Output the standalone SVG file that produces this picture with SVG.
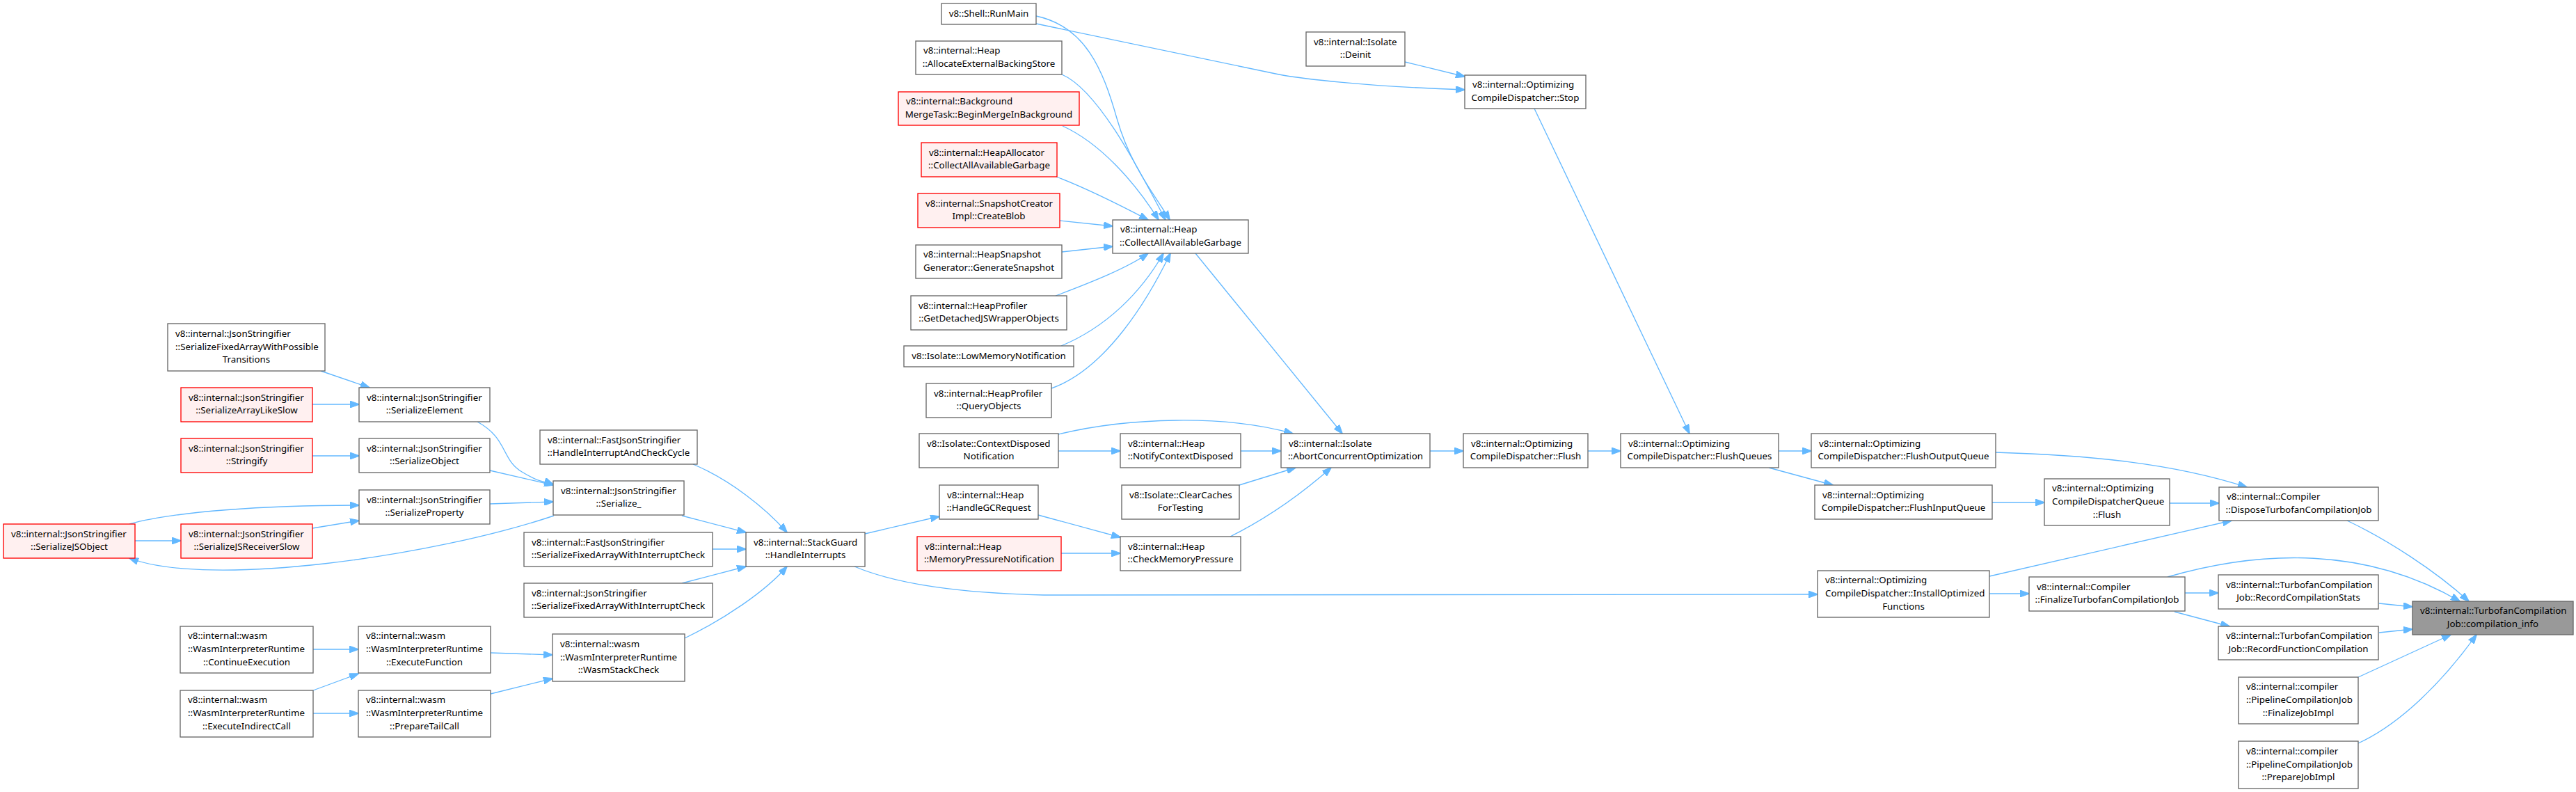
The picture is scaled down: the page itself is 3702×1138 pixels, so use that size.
<svg xmlns="http://www.w3.org/2000/svg" width="3702" height="1138" viewBox="0 0 3702 1138">
<style>
text{font-family:"Noto Sans","DejaVu Sans",sans-serif;font-size:13.33px;fill:#000}
.m{text-anchor:middle}
.n rect{fill:#fff;stroke:#666;stroke-width:1.33}
.r rect{fill:#fff0f0;stroke:#f00;stroke-width:1.33}
.g rect{fill:#999;stroke:#666;stroke-width:1.33}
#edges path{fill:none;stroke:#63b8ff;stroke-width:1.33;marker-end:url(#a)}
</style>
<defs>
<marker id="a" markerUnits="userSpaceOnUse" markerWidth="14" markerHeight="10" viewBox="0 0 14 10" refX="13" refY="5" orient="auto"><path d="M0,0L14,5L0,10z" fill="#63b8ff" stroke="#63b8ff" stroke-width="1"/></marker>
</defs>
<rect width="3702" height="1138" fill="#fff"/>
<g id="edges">
<path d="M1489,23 C1560,38 1585,100 1605,170 S1660,280 1681,316"/>
<path d="M1526,107 C1580,130 1640,250 1675,316"/>
<path d="M1527,181 C1580,205 1630,260 1665,316"/>
<path d="M1518,254 C1560,270 1610,295 1650,316"/>
<path d="M1523,317 L1599,325"/>
<path d="M1526,362 L1599,354"/>
<path d="M1517,425 C1570,405 1620,385 1650,364"/>
<path d="M1525,497 C1590,470 1640,420 1672,364"/>
<path d="M1511,558 C1590,530 1650,430 1682,364"/>
<path d="M1718,364 L1929,623"/>
<path d="M2205,156 L2428,623"/>
<path d="M2019,89 L2105,110"/>
<path d="M1489,34 L1838,107 C1870,113 1960,124 2105,129"/>
<path d="M1521,624 C1620,600 1760,595 1858,623"/>
<path d="M1521,648 L1610,648"/>
<path d="M1783,648 L1841,648"/>
<path d="M1781,697 L1862,672"/>
<path d="M1768,771 C1820,745 1870,710 1913,672"/>
<path d="M1492,740 L1610,772"/>
<path d="M1525,795 L1610,795"/>
<path d="M1243,767 L1350,742"/>
<path d="M1228,814 C1290,840 1380,852 1500,855 L2612,854"/>
<path d="M2055,648 L2103,648"/>
<path d="M2282,648 L2329,648"/>
<path d="M2556,648 L2603,648"/>
<path d="M2542,672 L2634,697"/>
<path d="M2863,722 L2938,722"/>
<path d="M2868,650 C3000,654 3120,665 3229,700"/>
<path d="M3118,723 L3189,723"/>
<path d="M2859,828 L3207,748"/>
<path d="M2859,853 L2916,853"/>
<path d="M3115,829 C3250,790 3400,785 3535,864"/>
<path d="M3140,852 L3188,852"/>
<path d="M3125,879 L3204,900"/>
<path d="M3373,748 C3430,775 3500,820 3548,864"/>
<path d="M3419,867 L3467,872"/>
<path d="M3419,909 L3467,904"/>
<path d="M3389,973 L3522,912"/>
<path d="M3389,1068 C3450,1040 3510,980 3559,912"/>
<path d="M461,533 L531,557"/>
<path d="M449,581 L516,581"/>
<path d="M449,655 L516,655"/>
<path d="M186,753 C250,735 380,726 516,726"/>
<path d="M449,759 L516,748"/>
<path d="M194,777 L260,777"/>
<path d="M796,741 C620,800 300,845 186,802"/>
<path d="M686,606 C730,630 720,660 750,678 S780,690 795,696"/>
<path d="M704,676 L795,697"/>
<path d="M704,724 L795,721"/>
<path d="M996,667 C1050,690 1100,730 1131,765"/>
<path d="M980,741 L1072,765"/>
<path d="M1024,789 L1072,789"/>
<path d="M980,838 L1072,814"/>
<path d="M984,917 C1040,890 1100,850 1131,814"/>
<path d="M450,933 L515,933"/>
<path d="M450,992 L515,968"/>
<path d="M450,1025 L515,1025"/>
<path d="M705,938 L794,941"/>
<path d="M705,997 L794,975"/>
</g>
<g id="n1" class="n"><rect x="1353" y="5" width="136" height="30"/><text class="m" x="1421" y="23.5">v8::Shell::RunMain</text></g>
<g id="n2" class="n"><rect x="1316" y="59" width="210" height="48"/><text x="1327" y="77.2">v8::internal::Heap</text><text class="m" x="1421" y="95.8">::AllocateExternalBackingStore</text></g>
<g id="n3" class="r"><rect x="1291" y="132" width="260" height="48"/><text x="1302" y="150.2">v8::internal::Background</text><text class="m" x="1421" y="168.8">MergeTask::BeginMergeInBackground</text></g>
<g id="n4" class="r"><rect x="1324" y="205" width="195" height="49"/><text x="1335" y="223.7">v8::internal::HeapAllocator</text><text class="m" x="1421.5" y="242.3">::CollectAllAvailableGarbage</text></g>
<g id="n5" class="r"><rect x="1319" y="278" width="204" height="49"/><text x="1330" y="296.7">v8::internal::SnapshotCreator</text><text class="m" x="1421" y="315.3">Impl::CreateBlob</text></g>
<g id="n6" class="n"><rect x="1316" y="352" width="210" height="48"/><text x="1327" y="370.2">v8::internal::HeapSnapshot</text><text class="m" x="1421" y="388.8">Generator::GenerateSnapshot</text></g>
<g id="n7" class="n"><rect x="1309" y="425" width="224" height="49"/><text x="1320" y="443.7">v8::internal::HeapProfiler</text><text class="m" x="1421" y="462.3">::GetDetachedJSWrapperObjects</text></g>
<g id="n8" class="n"><rect x="1299" y="497" width="244" height="30"/><text class="m" x="1421" y="515.5">v8::Isolate::LowMemoryNotification</text></g>
<g id="n9" class="n"><rect x="1331" y="551" width="180" height="49"/><text x="1342" y="569.7">v8::internal::HeapProfiler</text><text class="m" x="1421" y="588.3">::QueryObjects</text></g>
<g id="n10" class="n"><rect x="1599" y="316" width="195" height="48"/><text x="1610" y="334.2">v8::internal::Heap</text><text class="m" x="1696.5" y="352.8">::CollectAllAvailableGarbage</text></g>
<g id="n11" class="n"><rect x="1877" y="46" width="142" height="49"/><text x="1888" y="64.7">v8::internal::Isolate</text><text class="m" x="1948" y="83.3">::Deinit</text></g>
<g id="n12" class="n"><rect x="2105" y="108" width="174" height="48"/><text x="2116" y="126.2">v8::internal::Optimizing</text><text class="m" x="2192" y="144.8">CompileDispatcher::Stop</text></g>
<g id="n13" class="n"><rect x="1321" y="623" width="200" height="49"/><text x="1332" y="641.7">v8::Isolate::ContextDisposed</text><text class="m" x="1421" y="660.3">Notification</text></g>
<g id="n14" class="n"><rect x="1610" y="623" width="173" height="49"/><text x="1621" y="641.7">v8::internal::Heap</text><text class="m" x="1696.5" y="660.3">::NotifyContextDisposed</text></g>
<g id="n15" class="n"><rect x="1841" y="623" width="214" height="49"/><text x="1852" y="641.7">v8::internal::Isolate</text><text class="m" x="1948" y="660.3">::AbortConcurrentOptimization</text></g>
<g id="n16" class="n"><rect x="1612" y="697" width="169" height="49"/><text x="1623" y="715.7">v8::Isolate::ClearCaches</text><text class="m" x="1696.5" y="734.3">ForTesting</text></g>
<g id="n17" class="n"><rect x="1350" y="697" width="142" height="49"/><text x="1361" y="715.7">v8::internal::Heap</text><text class="m" x="1421" y="734.3">::HandleGCRequest</text></g>
<g id="n18" class="r"><rect x="1318" y="771" width="207" height="49"/><text x="1329" y="789.7">v8::internal::Heap</text><text class="m" x="1421.5" y="808.3">::MemoryPressureNotification</text></g>
<g id="n19" class="n"><rect x="1610" y="771" width="173" height="49"/><text x="1621" y="789.7">v8::internal::Heap</text><text class="m" x="1696.5" y="808.3">::CheckMemoryPressure</text></g>
<g id="n20" class="n"><rect x="2103" y="623" width="179" height="49"/><text x="2114" y="641.7">v8::internal::Optimizing</text><text class="m" x="2192.5" y="660.3">CompileDispatcher::Flush</text></g>
<g id="n21" class="n"><rect x="2329" y="623" width="227" height="49"/><text x="2340" y="641.7">v8::internal::Optimizing</text><text class="m" x="2442.5" y="660.3">CompileDispatcher::FlushQueues</text></g>
<g id="n22" class="n"><rect x="2603" y="623" width="265" height="49"/><text x="2614" y="641.7">v8::internal::Optimizing</text><text class="m" x="2735.5" y="660.3">CompileDispatcher::FlushOutputQueue</text></g>
<g id="n23" class="n"><rect x="2608" y="697" width="255" height="49"/><text x="2619" y="715.7">v8::internal::Optimizing</text><text class="m" x="2735.5" y="734.3">CompileDispatcher::FlushInputQueue</text></g>
<g id="n24" class="n"><rect x="2938" y="688" width="180" height="67"/><text x="2949" y="706.4">v8::internal::Optimizing</text><text x="2949" y="725">CompileDispatcherQueue</text><text class="m" x="3028" y="743.6">::Flush</text></g>
<g id="n25" class="n"><rect x="3189" y="700" width="229" height="48"/><text x="3200" y="718.2">v8::internal::Compiler</text><text class="m" x="3303.5" y="736.8">::DisposeTurbofanCompilationJob</text></g>
<g id="n26" class="n"><rect x="2612" y="820" width="247" height="67"/><text x="2623" y="838.4">v8::internal::Optimizing</text><text x="2623" y="857">CompileDispatcher::InstallOptimized</text><text class="m" x="2735.5" y="875.6">Functions</text></g>
<g id="n27" class="n"><rect x="2916" y="829" width="224" height="49"/><text x="2927" y="847.7">v8::internal::Compiler</text><text class="m" x="3028" y="866.3">::FinalizeTurbofanCompilationJob</text></g>
<g id="n28" class="n"><rect x="3188" y="826" width="230" height="49"/><text x="3199" y="844.7">v8::internal::TurbofanCompilation</text><text class="m" x="3303" y="863.3">Job::RecordCompilationStats</text></g>
<g id="n29" class="n"><rect x="3188" y="900" width="230" height="48"/><text x="3199" y="918.2">v8::internal::TurbofanCompilation</text><text class="m" x="3303" y="936.8">Job::RecordFunctionCompilation</text></g>
<g id="n30" class="n"><rect x="3217" y="973" width="172" height="67"/><text x="3228" y="991.4">v8::internal::compiler</text><text x="3228" y="1010">::PipelineCompilationJob</text><text class="m" x="3303" y="1028.6">::FinalizeJobImpl</text></g>
<g id="n31" class="n"><rect x="3217" y="1065" width="172" height="68"/><text x="3228" y="1083.9">v8::internal::compiler</text><text x="3228" y="1102.5">::PipelineCompilationJob</text><text class="m" x="3303" y="1121.1">::PrepareJobImpl</text></g>
<g id="n32" class="g"><rect x="3467" y="864" width="231" height="48"/><text x="3478" y="882.2">v8::internal::TurbofanCompilation</text><text class="m" x="3582.5" y="900.8">Job::compilation_info</text></g>
<g id="n33" class="n"><rect x="1072" y="765" width="171" height="49"/><text x="1083" y="783.7">v8::internal::StackGuard</text><text class="m" x="1157.5" y="802.3">::HandleInterrupts</text></g>
<g id="n34" class="n"><rect x="776" y="618" width="226" height="49"/><text x="787" y="636.7">v8::internal::FastJsonStringifier</text><text class="m" x="889" y="655.3">::HandleInterruptAndCheckCycle</text></g>
<g id="n35" class="n"><rect x="795" y="691" width="188" height="49"/><text x="806" y="709.7">v8::internal::JsonStringifier</text><text class="m" x="889" y="728.3">::Serialize_</text></g>
<g id="n36" class="n"><rect x="753" y="765" width="271" height="49"/><text x="764" y="783.7">v8::internal::FastJsonStringifier</text><text class="m" x="888.5" y="802.3">::SerializeFixedArrayWithInterruptCheck</text></g>
<g id="n37" class="n"><rect x="753" y="838" width="271" height="49"/><text x="764" y="856.7">v8::internal::JsonStringifier</text><text class="m" x="888.5" y="875.3">::SerializeFixedArrayWithInterruptCheck</text></g>
<g id="n38" class="n"><rect x="794" y="911" width="190" height="68"/><text x="805" y="929.9">v8::internal::wasm</text><text x="805" y="948.5">::WasmInterpreterRuntime</text><text class="m" x="889" y="967.1">::WasmStackCheck</text></g>
<g id="n39" class="n"><rect x="515" y="900" width="190" height="67"/><text x="526" y="918.4">v8::internal::wasm</text><text x="526" y="937">::WasmInterpreterRuntime</text><text class="m" x="610" y="955.6">::ExecuteFunction</text></g>
<g id="n40" class="n"><rect x="515" y="992" width="190" height="67"/><text x="526" y="1010.4">v8::internal::wasm</text><text x="526" y="1029">::WasmInterpreterRuntime</text><text class="m" x="610" y="1047.6">::PrepareTailCall</text></g>
<g id="n41" class="n"><rect x="259" y="900" width="191" height="67"/><text x="270" y="918.4">v8::internal::wasm</text><text x="270" y="937">::WasmInterpreterRuntime</text><text class="m" x="354.5" y="955.6">::ContinueExecution</text></g>
<g id="n42" class="n"><rect x="259" y="992" width="191" height="67"/><text x="270" y="1010.4">v8::internal::wasm</text><text x="270" y="1029">::WasmInterpreterRuntime</text><text class="m" x="354.5" y="1047.6">::ExecuteIndirectCall</text></g>
<g id="n43" class="n"><rect x="516" y="557" width="188" height="49"/><text x="527" y="575.7">v8::internal::JsonStringifier</text><text class="m" x="610" y="594.3">::SerializeElement</text></g>
<g id="n44" class="n"><rect x="516" y="630" width="188" height="49"/><text x="527" y="648.7">v8::internal::JsonStringifier</text><text class="m" x="610" y="667.3">::SerializeObject</text></g>
<g id="n45" class="n"><rect x="516" y="704" width="188" height="49"/><text x="527" y="722.7">v8::internal::JsonStringifier</text><text class="m" x="610" y="741.3">::SerializeProperty</text></g>
<g id="n46" class="n"><rect x="241" y="465" width="226" height="68"/><text x="252" y="483.9">v8::internal::JsonStringifier</text><text x="252" y="502.5">::SerializeFixedArrayWithPossible</text><text class="m" x="354" y="521.1">Transitions</text></g>
<g id="n47" class="r"><rect x="260" y="557" width="189" height="49"/><text x="271" y="575.7">v8::internal::JsonStringifier</text><text class="m" x="354.5" y="594.3">::SerializeArrayLikeSlow</text></g>
<g id="n48" class="r"><rect x="260" y="630" width="189" height="49"/><text x="271" y="648.7">v8::internal::JsonStringifier</text><text class="m" x="354.5" y="667.3">::Stringify</text></g>
<g id="n49" class="r"><rect x="5" y="753" width="189" height="49"/><text x="16" y="771.7">v8::internal::JsonStringifier</text><text class="m" x="99.5" y="790.3">::SerializeJSObject</text></g>
<g id="n50" class="r"><rect x="260" y="753" width="189" height="49"/><text x="271" y="771.7">v8::internal::JsonStringifier</text><text class="m" x="354.5" y="790.3">::SerializeJSReceiverSlow</text></g>
</svg>
